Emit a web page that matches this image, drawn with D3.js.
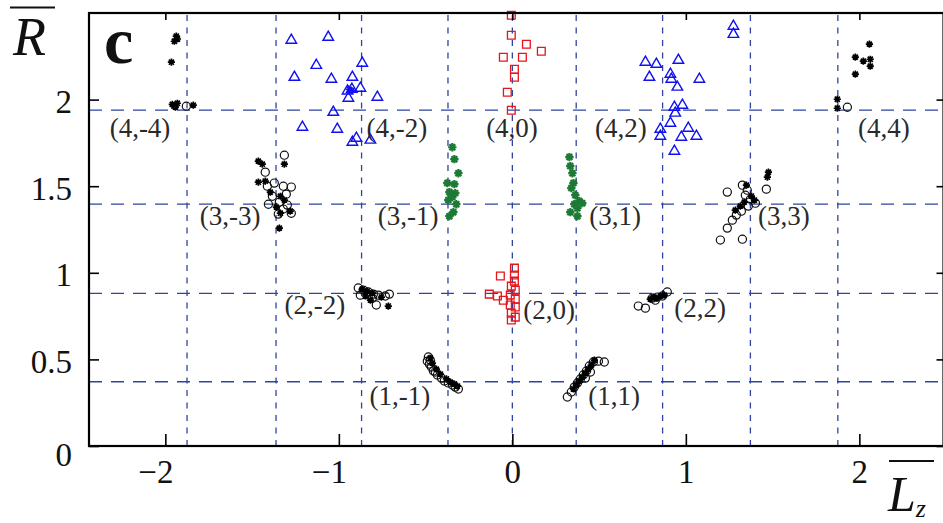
<!DOCTYPE html>
<html>
<head>
<meta charset="utf-8">
<script src="https://cdn.jsdelivr.net/npm/d3@7"></script>
<style>
  html, body { margin: 0; padding: 0; background: #fff; }
  svg { display: block; }
  text { font-family: "Liberation Serif", "DejaVu Serif", serif; }
</style>
</head>
<body>
<svg id="chart" width="943" height="523"></svg>
<script>
// ---------------- data ----------------
const xTicks = [-2, -1, 0, 1, 2];
const yTicks = [0, 0.5, 1, 1.5, 2];
const yTicksRight = [0, 0.5, 1, 1.5, 2];

// reference levels (dashed lines)
const levelLz = [-1.875, -1.362, -0.869, -0.371, 0, 0.368, 0.866, 1.372, 1.876];
const levelR = [0.371, 0.881, 1.396, 1.939];

// black asterisks [Lz, R]
const blackStars = [
  [-1.937, 2.366], [-1.948, 2.337], [-1.930, 2.350], [-1.965, 2.216],
  [-1.960, 1.973], [-1.942, 1.957], [-1.931, 1.979], [-1.839, 1.968], [-1.950, 1.962],
  [-1.464, 1.645], [-1.441, 1.627], [-1.314, 1.627], [-1.464, 1.523], [-1.424, 1.529],
  [-1.395, 1.466], [-1.337, 1.442], [-1.314, 1.420], [-1.360, 1.379], [-1.280, 1.356],
  [-1.337, 1.344], [-1.343, 1.258],
  [-0.865, 0.906], [-0.836, 0.894], [-0.807, 0.883], [-0.755, 0.860], [-0.715, 0.808],
  [-0.847, 0.866], [-0.818, 0.842],
  [-0.473, 0.508], [-0.461, 0.479], [-0.438, 0.444], [-0.415, 0.415], [-0.380, 0.387],
  [-0.357, 0.369], [-0.334, 0.358], [-0.317, 0.346],
  [0.352, 0.329], [0.369, 0.352], [0.386, 0.375], [0.403, 0.398], [0.421, 0.421],
  [0.438, 0.444], [0.455, 0.467], [0.473, 0.496],
  [0.795, 0.848], [0.830, 0.854], [0.853, 0.866], [0.876, 0.871], [0.813, 0.860],
  [1.476, 1.581], [1.470, 1.552], [1.349, 1.506], [1.378, 1.443], [1.337, 1.408],
  [1.314, 1.385], [1.285, 1.362], [1.395, 1.420],
  [2.058, 2.320], [1.977, 2.245], [2.023, 2.222], [2.063, 2.233], [2.063, 2.193],
  [1.977, 2.147], [1.873, 2.002], [1.873, 1.950]
];

// black open circles [Lz, R]
const blackCircles = [
  [-1.879, 1.962],
  [-1.314, 1.679], [-1.424, 1.581], [-1.412, 1.500], [-1.372, 1.518], [-1.320, 1.500],
  [-1.274, 1.495], [-1.383, 1.442], [-1.303, 1.454], [-1.343, 1.408], [-1.297, 1.391],
  [-1.406, 1.396], [-1.320, 1.368], [-1.274, 1.344], [-1.349, 1.339],
  [-0.888, 0.912], [-0.859, 0.900], [-0.830, 0.889], [-0.801, 0.877], [-0.772, 0.871],
  [-0.732, 0.866], [-0.709, 0.877], [-0.784, 0.814], [-0.807, 0.854], [-0.876, 0.871],
  [-0.484, 0.514], [-0.473, 0.496], [-0.478, 0.473], [-0.467, 0.456], [-0.455, 0.433],
  [-0.432, 0.410], [-0.409, 0.392], [-0.392, 0.375], [-0.369, 0.364], [-0.346, 0.352],
  [-0.329, 0.340], [-0.311, 0.329], [-0.444, 0.427], [-0.490, 0.490],
  [0.317, 0.283], [0.340, 0.312], [0.357, 0.340], [0.375, 0.364], [0.392, 0.387],
  [0.409, 0.410], [0.427, 0.433], [0.444, 0.462], [0.467, 0.485], [0.496, 0.490],
  [0.530, 0.485], [0.450, 0.427], [0.421, 0.392],
  [0.726, 0.808], [0.767, 0.796], [0.807, 0.854], [0.836, 0.860], [0.865, 0.866],
  [0.893, 0.889], [0.824, 0.842],
  [1.239, 1.466], [1.326, 1.506], [1.354, 1.477], [1.464, 1.483], [1.401, 1.402],
  [1.360, 1.385], [1.320, 1.356], [1.291, 1.333], [1.268, 1.304], [1.239, 1.258],
  [1.199, 1.189], [1.326, 1.194], [1.343, 1.448], [1.372, 1.425],
  [1.931, 1.956]
];

// blue open triangles [Lz, R]
const blueTriangles = [
  [-1.274, 2.343], [-1.061, 2.360], [-1.130, 2.198], [-1.256, 2.129], [-1.043, 2.118],
  [-0.922, 2.129], [-0.865, 2.210], [-0.876, 2.066], [-0.945, 2.008], [-0.778, 2.014],
  [-1.032, 1.927], [-1.210, 1.841], [-1.009, 1.829], [-0.922, 1.754], [-0.899, 1.777],
  [-0.818, 1.766], [-0.950, 2.050], [-0.925, 2.060],
  [0.767, 2.216], [0.830, 2.204], [0.957, 2.227], [0.790, 2.129], [0.911, 2.147],
  [0.916, 2.118], [0.951, 2.072], [1.078, 2.118], [1.274, 2.424], [1.274, 2.377],
  [0.934, 1.956], [0.980, 1.968], [0.939, 1.922], [0.911, 1.864], [0.853, 1.829],
  [0.853, 1.789], [1.014, 1.835], [0.974, 1.783], [1.061, 1.789], [0.934, 1.702]
];

// blue asterisks [Lz, R]
const blueStars = [[-0.939, 2.060], [-0.925, 2.052]];

// red open squares [Lz, R]
const redSquares = [
  [-0.006, 2.487], [-0.006, 2.372], [0.081, 2.320], [0.167, 2.279], [-0.052, 2.245],
  [0.058, 2.245], [0.012, 2.175], [0.012, 2.129], [-0.029, 2.043], [-0.006, 1.939],
  [0.012, 1.027], [0.012, 0.987], [-0.069, 0.981], [0.012, 0.952], [-0.006, 0.923],
  [0.017, 0.900], [-0.133, 0.877], [-0.086, 0.866], [-0.052, 0.842], [-0.012, 0.871],
  [0.017, 0.848], [-0.012, 0.814], [0.017, 0.802], [-0.006, 0.767], [0.017, 0.744],
  [-0.006, 0.727]
];

// green asterisks [Lz, R]
const greenStars = [
  [-0.346, 1.725], [-0.334, 1.656], [-0.311, 1.575], [-0.375, 1.518], [-0.334, 1.512],
  [-0.363, 1.466], [-0.329, 1.460], [-0.346, 1.437], [-0.369, 1.420], [-0.323, 1.396],
  [-0.340, 1.350], [-0.363, 1.327],
  [0.329, 1.668], [0.334, 1.616], [0.346, 1.575], [0.352, 1.518], [0.340, 1.489],
  [0.363, 1.448], [0.386, 1.414], [0.357, 1.396], [0.375, 1.373], [0.334, 1.350],
  [0.375, 1.327], [0.403, 1.402]
];

// state labels: text and anchor [Lz, R]
const stateLabels = [
  ["(4,-4)", -2.146, 1.784], ["(4,-2)", -0.665, 1.784], ["(4,0)", -0.002, 1.784],
  ["(4,2)", 0.625, 1.784], ["(4,4)", 2.142, 1.784],
  ["(3,-3)", -1.627, 1.276], ["(3,-1)", -0.601, 1.276], ["(3,1)", 0.592, 1.276],
  ["(3,3)", 1.565, 1.276],
  ["(2,-2)", -1.138, 0.762], ["(2,0)", 0.212, 0.733], ["(2,2)", 1.082, 0.745],
  ["(1,-1)", -0.648, 0.237], ["(1,1)", 0.586, 0.237]
];

// ---------------- drawing ----------------
const svg = d3.select("#chart");
const x = d3.scaleLinear().domain([-2.44, 2.485]).range([89, 943.5]);
const y = d3.scaleLinear().domain([0, 2.5]).range([446, 13]);
const [x0, x1] = x.range();
const [yb, yt] = y.range();

const gridColor = "#2f44a0";

// dashed reference lines
svg.append("g").selectAll("line").data(levelLz).join("line")
  .attr("x1", d => x(d)).attr("x2", d => x(d))
  .attr("y1", yb).attr("y2", yt)
  .attr("stroke", gridColor).attr("stroke-width", 1.3)
  .attr("stroke-dasharray", "6,6.5");
svg.append("g").selectAll("line").data(levelR).join("line")
  .attr("x1", x0).attr("x2", x1)
  .attr("y1", d => y(d)).attr("y2", d => y(d))
  .attr("stroke", gridColor).attr("stroke-width", 1.3)
  .attr("stroke-dasharray", "13,9");

// custom 8-arm asterisk symbol
const asterisk8 = {
  draw(ctx, size) {
    const r = Math.sqrt(size) / 2;
    const d = r * Math.SQRT1_2;
    ctx.moveTo(-r, 0); ctx.lineTo(r, 0);
    ctx.moveTo(0, -r); ctx.lineTo(0, r);
    ctx.moveTo(-d, -d); ctx.lineTo(d, d);
    ctx.moveTo(-d, d); ctx.lineTo(d, -d);
  }
};

function drawMarks(data, type, size, color, width) {
  svg.append("g").selectAll("path").data(data).join("path")
    .attr("transform", d => `translate(${x(d[0])},${y(d[1])})`)
    .attr("d", d3.symbol().type(type).size(size))
    .attr("fill", "none")
    .attr("stroke", color)
    .attr("stroke-width", width);
}

drawMarks(redSquares, d3.symbolSquare, 60, "#e8141c", 1.3);
drawMarks(blueTriangles, d3.symbolTriangle, 48, "#1010f0", 1.4);
drawMarks(blueStars, asterisk8, 49, "#1010f0", 1.6);
drawMarks(greenStars, asterisk8, 70, "#1d7a34", 2.2);
drawMarks(blackCircles, d3.symbolCircle, 52, "#111", 1.2);
drawMarks(blackStars, asterisk8, 52, "#000", 1.7);

// frame
svg.append("rect")
  .attr("x", x0).attr("y", yt)
  .attr("width", x1 - x0).attr("height", yb - yt)
  .attr("fill", "none").attr("stroke", "#000").attr("stroke-width", 2.2);

// axes
const font = '"Liberation Serif", "DejaVu Serif", serif';
const bottomAxis = svg.append("g").attr("transform", `translate(0,${yb})`)
  .call(d3.axisBottom(x).tickValues(xTicks).tickSizeInner(-12).tickSizeOuter(0)
    .tickFormat(d => (d < 0 ? "\u2212" : "") + Math.abs(d)));
bottomAxis.select(".domain").remove();
bottomAxis.selectAll(".tick line").attr("stroke", "#000").attr("stroke-width", 1.6);
bottomAxis.selectAll(".tick text")
  .attr("y", 37).attr("dy", 0)
  .attr("dx", d => d < 0 ? -10 : 0)
  .attr("fill", "#111").attr("font-family", font).attr("font-size", 33);

const topAxis = svg.append("g").attr("transform", `translate(0,${yt})`)
  .call(d3.axisTop(x).tickValues(xTicks).tickSizeInner(-7).tickSizeOuter(0).tickFormat(""));
topAxis.select(".domain").remove();
topAxis.selectAll(".tick line").attr("stroke", "#000").attr("stroke-width", 1.6);

const leftAxis = svg.append("g").attr("transform", `translate(${x0},0)`)
  .call(d3.axisLeft(y).tickValues(yTicks).tickSizeInner(-10).tickSizeOuter(0)
    .tickFormat(d => String(d)));
leftAxis.select(".domain").remove();
leftAxis.selectAll(".tick line").attr("stroke", "#000").attr("stroke-width", 1.6);
leftAxis.selectAll(".tick text")
  .attr("x", -17).attr("dy", d => d === 0 ? 19 : 13)
  .attr("text-anchor", "end")
  .attr("fill", "#111").attr("font-family", font).attr("font-size", 33);

const rightAxis = svg.append("g").attr("transform", `translate(${x1},0)`)
  .call(d3.axisRight(y).tickValues(yTicksRight).tickSizeInner(-7).tickSizeOuter(0).tickFormat(""));
rightAxis.select(".domain").remove();
rightAxis.selectAll(".tick line").attr("stroke", "#000").attr("stroke-width", 1.6);

// state labels
svg.append("g").selectAll("text").data(stateLabels).join("text")
  .attr("x", d => x(d[1])).attr("y", d => y(d[2]))
  .attr("text-anchor", "middle")
  .attr("font-size", 27).attr("fill", "#2a2a2a")
  .text(d => d[0]);

// panel letter
svg.append("text").attr("x", 104).attr("y", 63)
  .attr("font-size", 66).attr("font-weight", "bold").attr("fill", "#111")
  .text("c");

// y-axis title: R with overline
svg.append("line").attr("x1", 10).attr("x2", 55).attr("y1", 7.5).attr("y2", 7.5)
  .attr("stroke", "#111").attr("stroke-width", 2.2);
svg.append("text").attr("x", 13).attr("y", 55)
  .attr("font-size", 54).attr("font-style", "italic").attr("fill", "#111")
  .text("R");

// x-axis title: L_z with overline
svg.append("line").attr("x1", 889).attr("x2", 934).attr("y1", 461).attr("y2", 461)
  .attr("stroke", "#111").attr("stroke-width", 2.2);
const xt = svg.append("text").attr("x", 888).attr("y", 511)
  .attr("font-size", 50).attr("font-style", "italic").attr("fill", "#111");
xt.append("tspan").text("L");
xt.append("tspan").attr("font-size", 26).attr("dy", 6).text("z");
</script>
</body>
</html>
